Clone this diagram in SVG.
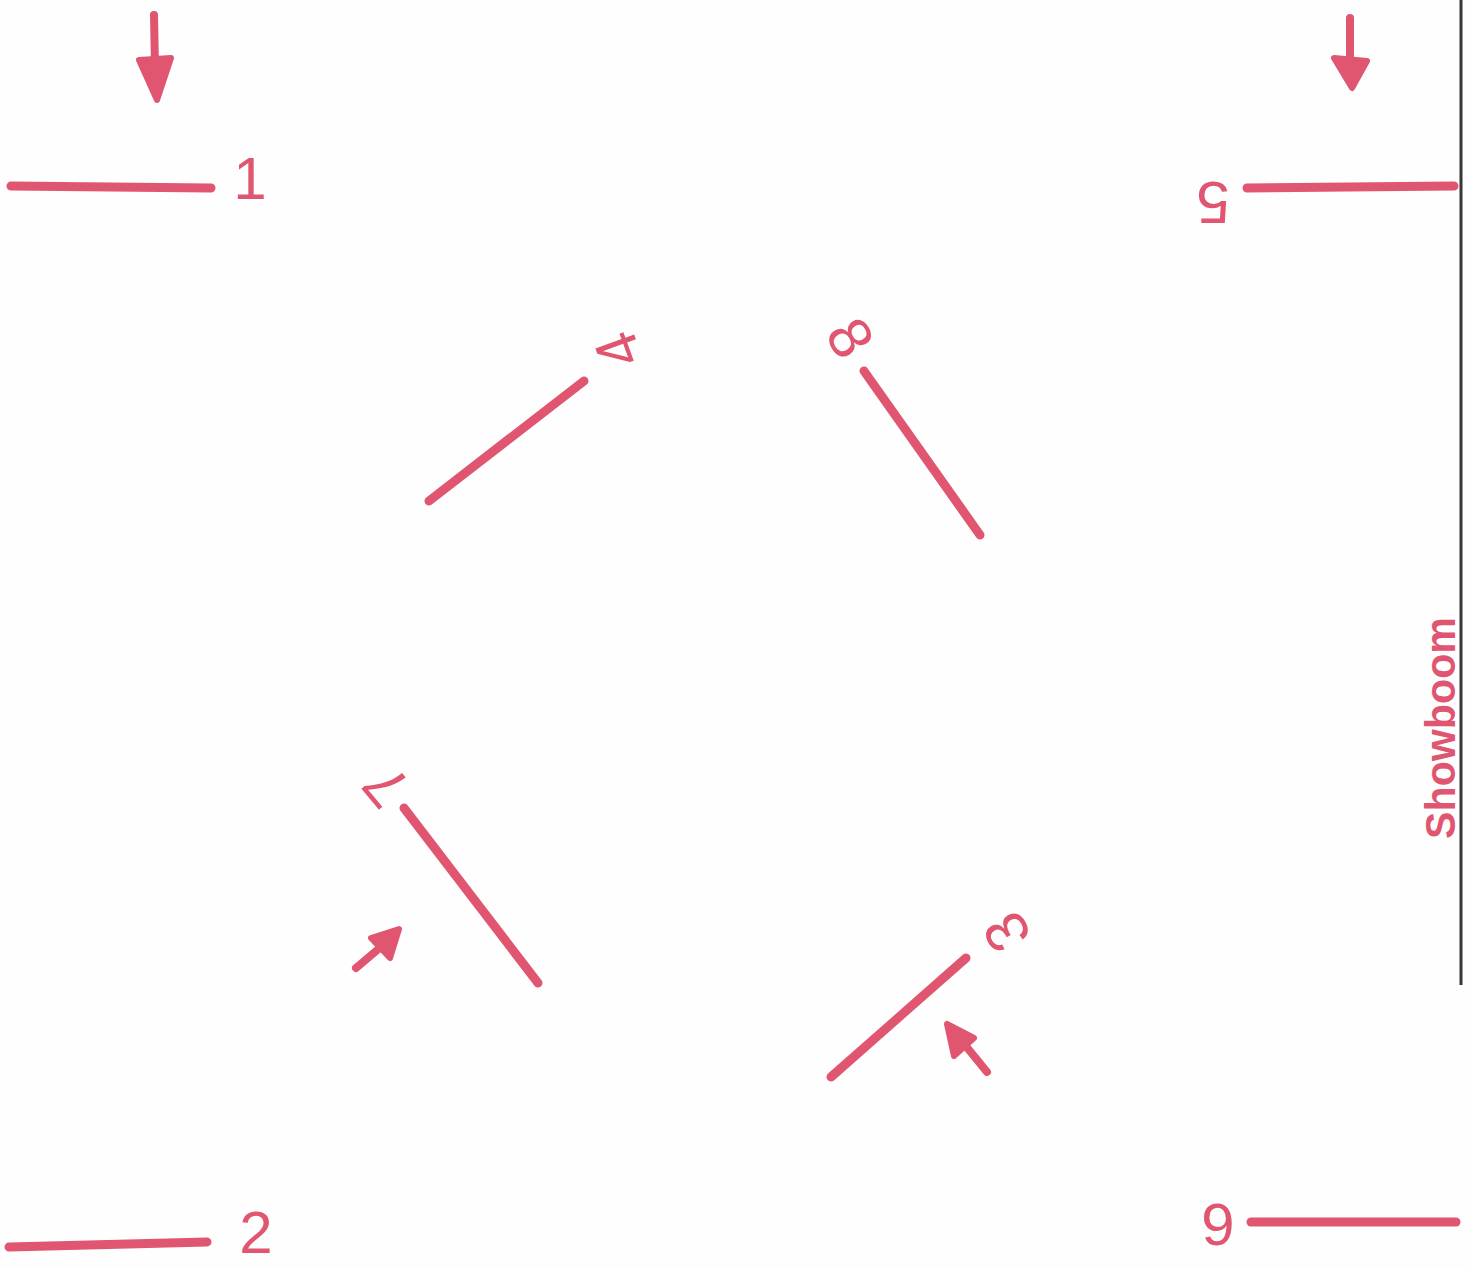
<svg xmlns="http://www.w3.org/2000/svg" width="1469" height="1268" viewBox="0 0 1469 1268">
<style>
.ln{stroke:#e05670;stroke-width:9;stroke-linecap:round;fill:none}
.sh{stroke:#e05670;stroke-width:8;stroke-linecap:round;fill:none}
.hd{fill:#e05670;stroke:#e05670;stroke-width:6;stroke-linejoin:round}
.lb{fill:#e05670;font-family:"Liberation Sans",Arial,sans-serif;font-size:60px;text-anchor:middle;dominant-baseline:central}
.tx{fill:#e05670;font-family:"Liberation Sans",Arial,sans-serif;font-size:42px;font-weight:bold;text-anchor:middle;dominant-baseline:central}
</style>
<rect width="1469" height="1268" fill="#fefefe"/>
<line x1="1461" y1="0" x2="1461" y2="985" stroke="#3a3436" stroke-width="3"/>
<g id="n1"><line class="ln" x1="11" y1="186" x2="211" y2="188"/><text class="lb" x="250" y="178">1</text></g>
<g id="n2"><line class="ln" x1="9" y1="1247" x2="207" y2="1242"/><text class="lb" x="256" y="1232">2</text></g>
<g id="n3"><line class="ln" x1="831" y1="1077" x2="966" y2="958"/><text class="lb" transform="rotate(-120 1007 932)" x="1007" y="932">3</text></g>
<g id="n4"><line class="ln" x1="429" y1="501" x2="584" y2="381"/><text class="lb" transform="rotate(-110 618 350)" x="618" y="350">4</text></g>
<g id="n5"><line class="ln" x1="1247" y1="188" x2="1454" y2="186"/><text class="lb" transform="rotate(180 1213 202)" x="1213" y="202">5</text></g>
<g id="n6"><line class="ln" x1="1251" y1="1222" x2="1456" y2="1222"/><text class="lb" transform="rotate(180 1218 1224)" x="1218" y="1224">6</text></g>
<g id="n7"><line class="ln" x1="404" y1="808" x2="538" y2="983"/><text class="lb" transform="rotate(-130 386 786)" x="386" y="786">7</text></g>
<g id="n8"><line class="ln" x1="864" y1="371" x2="980" y2="535"/><text class="lb" transform="rotate(60 850 338)" x="850" y="338">8</text></g>
<g id="label"><text class="tx" transform="rotate(-90 1440 728)" x="1440" y="728" textLength="222" lengthAdjust="spacingAndGlyphs">Showboom</text></g>
<g id="connectors">
<line class="sh" x1="154" y1="15" x2="155" y2="68"/>
<polygon class="hd" points="139,60 171,58 157,100"/>
<line class="sh" x1="1350" y1="18" x2="1350" y2="62"/>
<polygon class="hd" points="1334,58 1367,61 1352,88"/>
<line class="sh" x1="356" y1="968" x2="382" y2="946"/>
<polygon class="hd" points="371,938 390,958 399,929"/>
<line class="sh" x1="987" y1="1072" x2="965" y2="1045"/>
<polygon class="hd" points="954,1056 974,1038 947,1024"/>
</g>
</svg>
